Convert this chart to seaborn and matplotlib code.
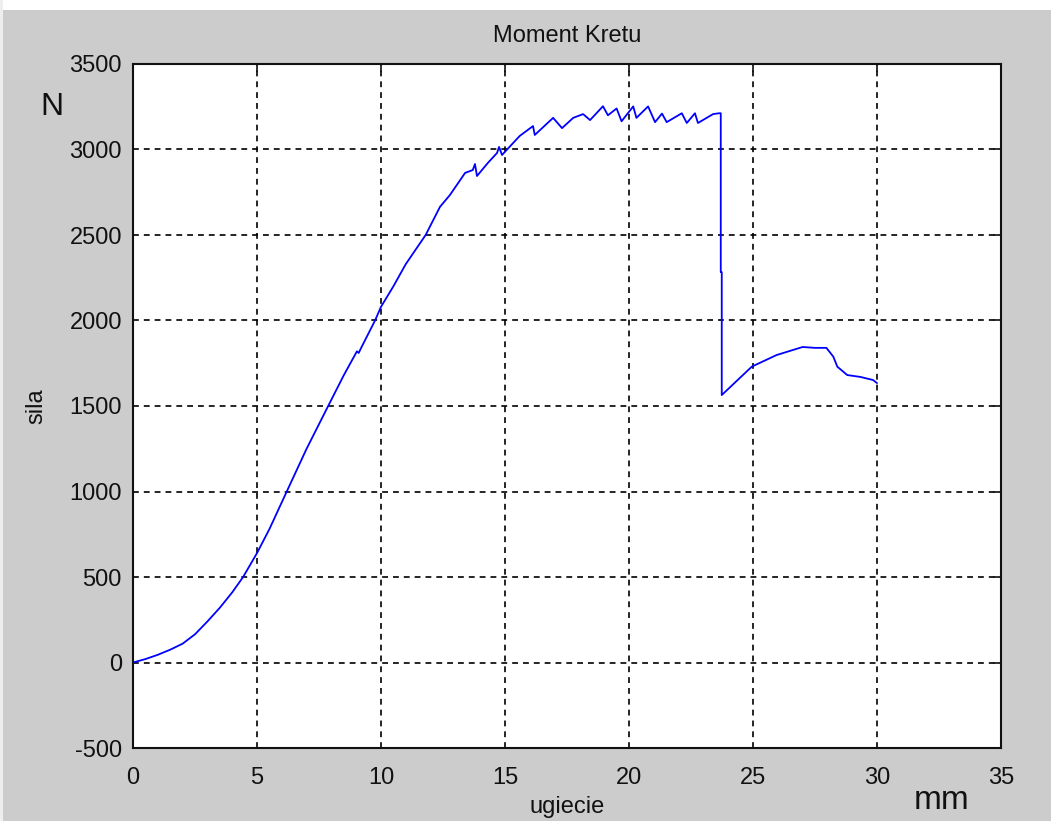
import matplotlib
matplotlib.use("Agg")
import matplotlib.pyplot as plt
from matplotlib.patches import Rectangle
import seaborn as sns
import pandas as pd

# deflection (mm) and force (N) from the bending test
ugiecie = [0, 0.5, 1, 1.5, 2, 2.5, 3, 3.5, 4, 4.44, 5, 5.5, 6.2, 7, 7.87, 8.5,
           9.03, 9.1, 9.2, 9.76, 10, 10.5, 11, 11.8, 12.38, 12.78, 13.39, 13.7,
           13.79, 13.87, 14.3, 14.68, 14.76, 14.88, 15.52, 15.6, 16.13, 16.2,
           16.94, 17.3, 17.75, 18.15, 18.43, 18.95, 19.15, 19.5, 19.7, 20.17,
           20.3, 20.77, 21.05, 21.33, 21.52, 22.13, 22.33, 22.66, 22.78, 23.39,
           23.63, 23.7, 23.7, 23.74, 23.74, 24.95, 25.95, 27.0, 27.5, 27.96,
           28.24, 28.4, 28.8, 29.33, 29.84, 30.0]
sila = [0, 20, 45, 75, 110, 165, 240, 320, 410, 500, 640, 780, 1000, 1250, 1500, 1680,
        1820, 1810, 1840, 2000, 2080, 2200, 2330, 2500, 2665, 2734, 2863, 2880,
        2915, 2845, 2920, 2980, 3015, 2968, 3068, 3080, 3137, 3085,
        3185, 3125, 3185, 3207, 3172, 3253, 3200, 3240, 3165, 3252,
        3185, 3252, 3160, 3210, 3160, 3212, 3155, 3212, 3155, 3207,
        3212, 3212, 2283, 2283, 1564, 1730, 1798, 1845, 1840, 1840,
        1788, 1730, 1681, 1670, 1652, 1634]

x_ticks = [0, 5, 10, 15, 20, 25, 30, 35]
y_ticks = [-500, 0, 500, 1000, 1500, 2000, 2500, 3000, 3500]

df = pd.DataFrame({"ugiecie": ugiecie, "sila": sila})

sns.set_style("white")
plt.rcParams["font.family"] = ["Liberation Sans", "DejaVu Sans"]

fig = plt.figure(figsize=(10.51, 8.21), dpi=100, facecolor="#cccccc")
fig.patches.append(Rectangle((0, 1 - 10 / 821), 1, 10 / 821, transform=fig.transFigure,
                             facecolor="white", edgecolor="none", zorder=0))
fig.patches.append(Rectangle((0, 0), 3 / 1051, 1, transform=fig.transFigure,
                             facecolor="#eeeeee", edgecolor="none", zorder=0))

ax = fig.add_axes([133 / 1051, 73 / 821, 868 / 1051, 684 / 821])
ax.set_facecolor("white")

sns.lineplot(data=df, x="ugiecie", y="sila", sort=False, estimator=None,
             color="#0000ff", linewidth=1.3, ax=ax)

ax.set_xlim(0, 35)
ax.set_ylim(-500, 3500)
ax.set_xticks(x_ticks)
ax.set_yticks(y_ticks)
ax.set_xticklabels([str(v) for v in x_ticks])
ax.set_yticklabels([str(v) for v in y_ticks])

ax.grid(True, color="black", linestyle=(0, (3.5, 3)), linewidth=1.2)
ax.set_axisbelow(True)
for s in ax.spines.values():
    s.set_color("#111111")
    s.set_linewidth(1.5)

ax.tick_params(direction="in", length=6, width=1.2, colors="#111111",
               top=True, right=True, labelsize=17)
ax.tick_params(axis="x", pad=14)
ax.tick_params(axis="y", pad=8)
for lab in ax.get_xticklabels() + ax.get_yticklabels():
    lab.set_color("#111111")

ax.set_title("Moment Kretu", fontsize=17, pad=16, color="#111111")
ax.set_xlabel("ugiecie", fontsize=17, labelpad=5, color="#111111")
ax.set_ylabel("sila", fontsize=17, labelpad=16, color="#111111")

fig.text(52 / 1051, 1 - 107 / 821, "N", fontsize=23, ha="center", va="center", color="#111111")
fig.text(942 / 1051, 1 - 800 / 821, "mm", fontsize=24, ha="center", va="center", color="#111111")

fig.savefig("out.png", dpi=100, facecolor=fig.get_facecolor())
